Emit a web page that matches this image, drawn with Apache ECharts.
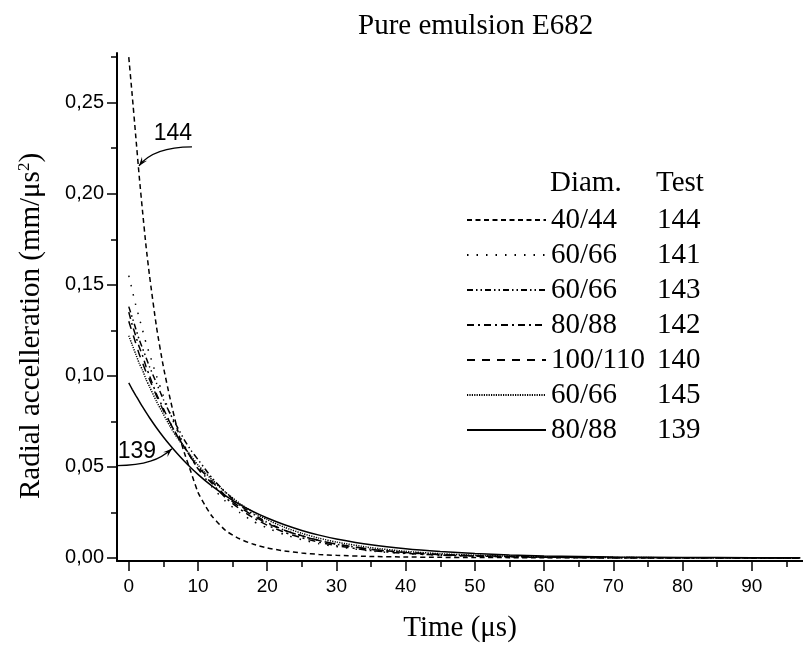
<!DOCTYPE html>
<html>
<head>
<meta charset="utf-8">
<script src="https://cdn.jsdelivr.net/npm/echarts@6/dist/echarts.min.js"></script>
<style>html,body{margin:0;padding:0;background:#fff}#c{width:803px;height:648px}</style>
</head>
<body>
<div id="c"></div>
<script>
// ---- data ----
const timeUs = [0, 0.5, 1, 1.5, 2, 2.5, 3, 4, 5, 6, 7, 8, 9, 10, 11, 12, 14, 16, 18, 20, 22.5, 25, 27.5, 30, 35, 40, 45, 50, 55, 60, 70, 80, 90, 97];
const acc144 = [0.275, 0.254, 0.232, 0.210, 0.190, 0.171, 0.155, 0.127, 0.105, 0.087, 0.071, 0.058, 0.047, 0.036, 0.029, 0.023, 0.015, 0.0105, 0.0075, 0.0055, 0.0038, 0.0027, 0.0019, 0.0014, 0.0008, 0.0005, 0.0003, 0.0002, 0.00015, 0.0001, 0.00006, 0.00003, 0.00001, 0];
const acc141 = [0.155, 0.147, 0.139, 0.132, 0.125, 0.118, 0.112, 0.100, 0.089, 0.079, 0.070, 0.062, 0.055, 0.049, 0.044, 0.039, 0.031, 0.025, 0.020, 0.0165, 0.0128, 0.0100, 0.0078, 0.0062, 0.0038, 0.0024, 0.0015, 0.0009, 0.0006, 0.0004, 0.00015, 0.00006, 0.00002, 0];
const acc143 = [0.138, 0.132, 0.126, 0.120, 0.115, 0.110, 0.105, 0.096, 0.087, 0.079, 0.072, 0.065, 0.059, 0.054, 0.049, 0.044, 0.036, 0.029, 0.024, 0.0195, 0.0152, 0.0120, 0.0095, 0.0075, 0.0047, 0.0029, 0.0018, 0.0011, 0.0007, 0.0004, 0.00015, 0.00006, 0.00002, 0];
const acc142 = [0.135, 0.128, 0.122, 0.116, 0.111, 0.105, 0.100, 0.090, 0.082, 0.074, 0.067, 0.061, 0.055, 0.049, 0.045, 0.041, 0.033, 0.027, 0.022, 0.0180, 0.0140, 0.0110, 0.0086, 0.0067, 0.0040, 0.0025, 0.0015, 0.0009, 0.0006, 0.0003, 0.0001, 0.00005, 0.00002, 0];
const acc140 = [0.130, 0.124, 0.118, 0.112, 0.107, 0.102, 0.098, 0.089, 0.081, 0.074, 0.067, 0.061, 0.055, 0.050, 0.046, 0.042, 0.034, 0.028, 0.023, 0.0190, 0.0152, 0.0122, 0.0096, 0.0076, 0.0047, 0.0030, 0.0019, 0.0012, 0.0008, 0.0005, 0.0002, 0.0001, 0.00004, 0];
const acc145 = [0.122, 0.117, 0.112, 0.107, 0.103, 0.098, 0.094, 0.086, 0.079, 0.072, 0.066, 0.061, 0.056, 0.051, 0.047, 0.043, 0.036, 0.030, 0.025, 0.0210, 0.0168, 0.0135, 0.0108, 0.0087, 0.0056, 0.0036, 0.0023, 0.0015, 0.0010, 0.0006, 0.00025, 0.0001, 0.00004, 0];
const acc139 = [0.0961, 0.0926, 0.0893, 0.0861, 0.0829, 0.0799, 0.0770, 0.0715, 0.0664, 0.0617, 0.0573, 0.0532, 0.0494, 0.0459, 0.0426, 0.0396, 0.0341, 0.0294, 0.0254, 0.0219, 0.0182, 0.0151, 0.0125, 0.0104, 0.0072, 0.0050, 0.0035, 0.0024, 0.0016, 0.0011, 0.00054, 0.00026, 0.00012, 0.00007];

const testNames = ['144', '141', '143', '142', '140', '145', '139'];
const diameters = ['40/44', '60/66', '60/66', '80/88', '100/110', '60/66', '80/88'];
const seriesValues = [acc144, acc141, acc143, acc142, acc140, acc145, acc139];

const xTickValues = [0, 10, 20, 30, 40, 50, 60, 70, 80, 90];
const xMinorValues = [5, 15, 25, 35, 45, 55, 65, 75, 85, 95];
const yTickValues = [0, 0.05, 0.10, 0.15, 0.20, 0.25];
const yMinorValues = [0.025, 0.075, 0.125, 0.175, 0.225, 0.275];

// annotation anchors in data units [time, acceleration]
const annotations = [
  { label: '144', text: [6.38, 0.2329], start: [9.13, 0.2257], c1: [5.66, 0.2257], c2: [3.06, 0.2230], end: [1.47, 0.2153] },
  { label: '139', text: [1.18, 0.0584], start: [-1.7, 0.0507], c1: [2.34, 0.0507], c2: [4.50, 0.0540], end: [6.24, 0.0600] }
];

// ---- styles ----
const dashStyles = [[5, 3.5], [1.5, 8], [6, 3, 1.5, 3, 1.5, 3], [7, 4, 2, 4], [8, 7], [1.2, 1.2], 'solid'];
const SERIF = 'Liberation Serif, Times New Roman, serif';
const SANS = 'Liberation Sans, Arial, sans-serif';

const chart = echarts.init(document.getElementById('c'));

const series = testNames.map((n, i) => ({
  name: n,
  type: 'line',
  xAxisIndex: 0,
  yAxisIndex: 0,
  data: timeUs.map((t, k) => [t, seriesValues[i][k]]),
  symbol: 'none',
  showSymbol: false,
  smooth: 0.2,
  lineStyle: { color: '#000', width: 1.5, type: dashStyles[i] },
  itemStyle: { color: '#000' },
  emphasis: { disabled: true },
  z: 3
}));

const fmtY = v => v.toFixed(2).replace('.', ',');

const option = {
  animation: false,
  backgroundColor: '#fff',
  title: [
    { text: 'Pure emulsion E682', left: 358, top: 9, padding: 0,
      textStyle: { fontFamily: SERIF, fontSize: 29, fontWeight: 'normal', color: '#000', lineHeight: 34 } },
    { text: '{a|Diam.}{b|Test}', left: 550, top: 166, padding: 0,
      textStyle: { fontFamily: SERIF, fontSize: 29, fontWeight: 'normal', color: '#000', lineHeight: 34,
        rich: { a: { width: 106, fontFamily: SERIF, fontSize: 29, color: '#000', lineHeight: 34 },
                b: { fontFamily: SERIF, fontSize: 29, color: '#000', lineHeight: 34 } } } }
  ],
  legend: {
    orient: 'vertical', left: 466, top: 202.5, padding: 0, itemGap: 0,
    itemWidth: 79, itemHeight: 14, selectedMode: false,
    data: testNames,
    itemStyle: { opacity: 0, borderWidth: 0 },
    formatter: name => '{a|' + diameters[testNames.indexOf(name)] + '}{b|' + name + '}',
    textStyle: { fontFamily: SERIF, fontSize: 29, color: '#000', lineHeight: 35,
      rich: { a: { width: 106, fontFamily: SERIF, fontSize: 29, color: '#000', lineHeight: 35 },
              b: { fontFamily: SERIF, fontSize: 29, color: '#000', lineHeight: 35 } } }
  },
  grid: { left: 117, top: 53, width: 686, height: 508.5, containLabel: false },
  xAxis: [
    { type: 'value', min: -1.7, max: 97.4, position: 'bottom',
      name: 'Time (μs)', nameLocation: 'middle', nameGap: 53,
      nameTextStyle: { fontFamily: SERIF, fontSize: 29, color: '#000' },
      splitLine: { show: false },
      axisLine: { show: true, onZero: false, lineStyle: { color: '#000', width: 2 } },
      axisTick: { show: true, customValues: xTickValues, length: 10, lineStyle: { color: '#000', width: 1.5 } },
      axisLabel: { show: true, customValues: xTickValues, margin: 16, fontFamily: SANS, fontSize: 19, color: '#000' } },
    { type: 'value', min: -1.7, max: 97.4, position: 'bottom', gridIndex: 0,
      splitLine: { show: false },
      axisLine: { show: false, onZero: false },
      axisTick: { show: true, customValues: xMinorValues, length: 6, lineStyle: { color: '#000', width: 1.5 } },
      axisLabel: { show: false } }
  ],
  yAxis: [
    { type: 'value', min: -0.0017, max: 0.2773, position: 'left',
      splitLine: { show: false },
      axisLine: { show: true, onZero: false, lineStyle: { color: '#000', width: 2 } },
      axisTick: { show: true, customValues: yTickValues, length: 10, lineStyle: { color: '#000', width: 1.5 } },
      axisLabel: { show: true, customValues: yTickValues, margin: 13, formatter: fmtY, fontFamily: SANS, fontSize: 20, color: '#000' } },
    { type: 'value', min: -0.0017, max: 0.2773, position: 'left', gridIndex: 0,
      splitLine: { show: false },
      axisLine: { show: false, onZero: false },
      axisTick: { show: true, customValues: yMinorValues, length: 6, lineStyle: { color: '#000', width: 1.5 } },
      axisLabel: { show: false } }
  ],
  series: series
};

chart.setOption(option);

// ---- annotations and y-axis title (positioned through the axis scales) ----
const P = p => chart.convertToPixel({ xAxisIndex: 0, yAxisIndex: 0 }, p);
const graphics = [];
annotations.forEach(a => {
  const s = P(a.start), c1 = P(a.c1), c2 = P(a.c2), e = P(a.end), t = P(a.text);
  graphics.push({ type: 'bezierCurve', silent: true, z: 10,
    shape: { x1: s[0], y1: s[1], cpx1: c1[0], cpy1: c1[1], cpx2: c2[0], cpy2: c2[1], x2: e[0], y2: e[1] },
    style: { stroke: '#000', lineWidth: 1.3, fill: null } });
  let dx = e[0] - c2[0], dy = e[1] - c2[1];
  const L = Math.hypot(dx, dy); dx /= L; dy /= L;
  const len = 9, w = 3.2;
  const bx = e[0] - dx * len, by = e[1] - dy * len;
  graphics.push({ type: 'polygon', silent: true, z: 10,
    shape: { points: [[e[0], e[1]], [bx - dy * w, by + dx * w], [e[0] - dx * len * 0.6, e[1] - dy * len * 0.6], [bx + dy * w, by - dx * w]] },
    style: { fill: '#000' } });
  graphics.push({ type: 'text', silent: true, z: 10, x: t[0], y: t[1],
    style: { text: a.label, fontFamily: SANS, fontSize: 23, fill: '#000', align: 'center', verticalAlign: 'middle' } });
});
graphics.push({ type: 'text', silent: true, z: 10, x: 31, y: 326, rotation: Math.PI / 2,
  style: { text: 'Radial accelleration (mm/μs{sup|2})', fontFamily: SERIF, fontSize: 29, fill: '#000',
    align: 'center', verticalAlign: 'middle',
    rich: { sup: { fontFamily: SERIF, fontSize: 17, fill: '#000', verticalAlign: 'top', lineHeight: 16 } } } });
chart.setOption({ graphic: graphics });
</script>
</body>
</html>
